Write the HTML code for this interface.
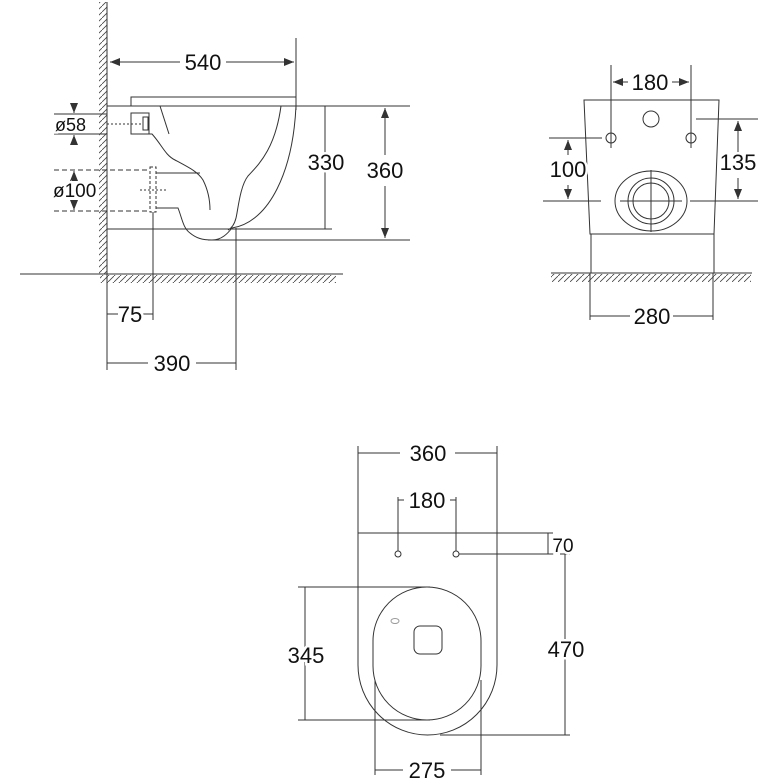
<!DOCTYPE html>
<html><head><meta charset="utf-8"><style>
html,body{margin:0;padding:0;background:#fff;width:779px;height:779px;overflow:hidden}
svg{display:block}
text{font-family:"Liberation Sans",sans-serif;fill:#111;paint-order:stroke;stroke:#fff;stroke-width:5px}
</style></head><body>
<svg width="779" height="779" viewBox="0 0 779 779" xmlns="http://www.w3.org/2000/svg">
<defs>
<pattern id="hv" width="6" height="6" patternUnits="userSpaceOnUse"><path d="M0,6 L6,0" stroke="#444" stroke-width="0.8"/></pattern>
<marker id="a" viewBox="0 0 10 10" refX="10" refY="5" markerWidth="10" markerHeight="10" orient="auto-start-reverse"><path d="M0,1 L10,5 L0,9 Z" fill="#333"/></marker>
</defs>
<g stroke="#333" stroke-width="1" fill="none">
<rect x="99" y="2" width="8" height="272" fill="url(#hv)" stroke="none"/>
<line x1="107" y1="2" x2="107" y2="274"/>
<line x1="20" y1="274" x2="343" y2="274"/>
<rect x="100" y="275" width="236" height="8" fill="url(#hv)" stroke="none"/>
<line x1="296" y1="38" x2="296" y2="110"/>
<line x1="110" y1="62" x2="180" y2="62" marker-start="url(#a)"/>
<line x1="226" y1="62" x2="294" y2="62" marker-end="url(#a)"/>
<rect x="131" y="97" width="165" height="9"/>
<line x1="107" y1="106" x2="410" y2="106"/>
<line x1="107" y1="229" x2="332" y2="229"/>
<line x1="208" y1="240" x2="410" y2="240"/>
<rect x="131" y="113" width="18" height="21"/>
<rect x="143" y="117" width="5" height="13"/>
<line x1="107" y1="124" x2="143" y2="124" stroke-dasharray="2,2"/>
<path d="M149,134 L152,134 C162,145 165,155 175,160 C190,168 198,172 203,180 C208,190 210,200 210,210"/>
<path d="M160,106 L169,134"/>
<path d="M156,173 L200,173"/>
<path d="M156,208 L178,208 C182,218 183,228 190,233 C196,238 202,240 212,240 C222,240 228,233 232,228 C270,222 293,170 296,106"/>
<path d="M281,106 C275,150 258,165 248,176 C240,186 238,210 236,218 C234,226 230,229 228,230"/>
<rect x="150" y="167" width="6" height="45" stroke-dasharray="3,2"/>
<line x1="140" y1="190" x2="166" y2="190" stroke-dasharray="2,2"/>
<line x1="54" y1="170" x2="150" y2="170" stroke-dasharray="5,3"/>
<line x1="54" y1="211" x2="150" y2="211" stroke-dasharray="5,3"/>
<line x1="54" y1="114" x2="107" y2="114"/>
<line x1="54" y1="134" x2="107" y2="134"/>
<line x1="74" y1="104" x2="74" y2="113" marker-end="url(#a)"/>
<line x1="74" y1="145" x2="74" y2="135" marker-end="url(#a)"/>
<line x1="74" y1="180" x2="74" y2="171" marker-end="url(#a)"/>
<line x1="74" y1="200" x2="74" y2="210" marker-end="url(#a)"/>
<line x1="325" y1="106" x2="325" y2="229"/>
<line x1="385" y1="108" x2="385" y2="155" marker-start="url(#a)"/>
<line x1="385" y1="186" x2="385" y2="238" marker-end="url(#a)"/>
<line x1="153" y1="212" x2="153" y2="320"/>
<line x1="107" y1="274" x2="107" y2="370"/>
<line x1="236" y1="228" x2="236" y2="370"/>
<line x1="107" y1="314" x2="118" y2="314"/><line x1="143" y1="314" x2="153" y2="314"/>
<line x1="107" y1="363" x2="148" y2="363"/><line x1="196" y1="363" x2="236" y2="363"/>
<path d="M584,100 L719,100 L714,234 L590,234 Z"/>
<rect x="591" y="234" width="123" height="39"/>
<line x1="551" y1="273" x2="752" y2="273"/>
<rect x="551" y="274" width="200" height="8" fill="url(#hv)" stroke="none"/>
<line x1="611" y1="65" x2="611" y2="148"/><line x1="691" y1="65" x2="691" y2="148"/>
<line x1="613" y1="82" x2="628" y2="82" marker-start="url(#a)"/>
<line x1="672" y1="82" x2="689" y2="82" marker-end="url(#a)"/>
<circle cx="611" cy="138" r="5"/><circle cx="691" cy="138" r="5"/>
<circle cx="651" cy="119" r="8"/>
<ellipse cx="651" cy="201" rx="36" ry="30"/>
<circle cx="651" cy="201" r="23"/><circle cx="651" cy="201" r="18"/>
<line x1="651" y1="170" x2="651" y2="232"/><line x1="620" y1="201" x2="682" y2="201"/>
<line x1="549" y1="138" x2="602" y2="138"/><line x1="543" y1="201" x2="601" y2="201"/>
<line x1="568" y1="140" x2="568" y2="155" marker-start="url(#a)"/>
<line x1="568" y1="185" x2="568" y2="199" marker-end="url(#a)"/>
<line x1="696" y1="119" x2="758" y2="119"/><line x1="690" y1="201" x2="758" y2="201"/>
<line x1="738" y1="121" x2="738" y2="152" marker-start="url(#a)"/>
<line x1="738" y1="178" x2="738" y2="199" marker-end="url(#a)"/>
<line x1="590" y1="273" x2="590" y2="320"/><line x1="713" y1="273" x2="713" y2="320"/>
<line x1="590" y1="316" x2="630" y2="316"/><line x1="673" y1="316" x2="713" y2="316"/>
<line x1="358" y1="446" x2="358" y2="533"/><line x1="497" y1="446" x2="497" y2="533"/>
<line x1="358" y1="453" x2="400" y2="453"/><line x1="455" y1="453" x2="497" y2="453"/>
<path d="M358,533 L497,533 L497,665 A69.5,70 0 0 1 358,665 Z"/>
<rect x="373" y="587" width="108" height="133" rx="54" ry="54"/>
<rect x="414" y="626" width="28" height="28" rx="6"/>
<ellipse cx="395" cy="621" rx="4" ry="2.5" stroke="#999"/>
<circle cx="398" cy="554" r="3"/><circle cx="456" cy="554" r="3"/>
<line x1="398" y1="497" x2="398" y2="551"/><line x1="456" y1="497" x2="456" y2="551"/>
<line x1="398" y1="500" x2="404" y2="500"/><line x1="450" y1="500" x2="456" y2="500"/>
<line x1="497" y1="533" x2="553" y2="533"/><line x1="459" y1="554" x2="570" y2="554"/>
<line x1="548" y1="533" x2="548" y2="554"/>
<line x1="565" y1="554" x2="565" y2="735"/><line x1="440" y1="735" x2="570" y2="735"/>
<line x1="298" y1="587" x2="430" y2="587"/><line x1="298" y1="720" x2="430" y2="720"/>
<line x1="305" y1="587" x2="305" y2="720"/>
<line x1="375" y1="680" x2="375" y2="775"/><line x1="481" y1="680" x2="481" y2="775"/>
<line x1="375" y1="770" x2="403" y2="770"/><line x1="451" y1="770" x2="481" y2="770"/>
</g>
<g font-size="22">
<text x="203" y="70" text-anchor="middle">540</text>
<text x="55" y="131" font-size="18">ø58</text>
<text x="53" y="197" font-size="19">ø100</text>
<text x="326" y="170" text-anchor="middle">330</text>
<text x="385" y="178" text-anchor="middle">360</text>
<text x="130" y="322" text-anchor="middle">75</text>
<text x="172" y="371" text-anchor="middle">390</text>
<text x="650" y="90" text-anchor="middle">180</text>
<text x="568" y="177" text-anchor="middle">100</text>
<text x="738" y="170" text-anchor="middle">135</text>
<text x="652" y="324" text-anchor="middle">280</text>
<text x="428" y="461" text-anchor="middle">360</text>
<text x="427" y="508" text-anchor="middle">180</text>
<text x="563" y="552" text-anchor="middle" font-size="19">70</text>
<text x="566" y="657" text-anchor="middle">470</text>
<text x="306" y="663" text-anchor="middle">345</text>
<text x="427" y="778" text-anchor="middle">275</text>
</g>
</svg>
</body></html>
